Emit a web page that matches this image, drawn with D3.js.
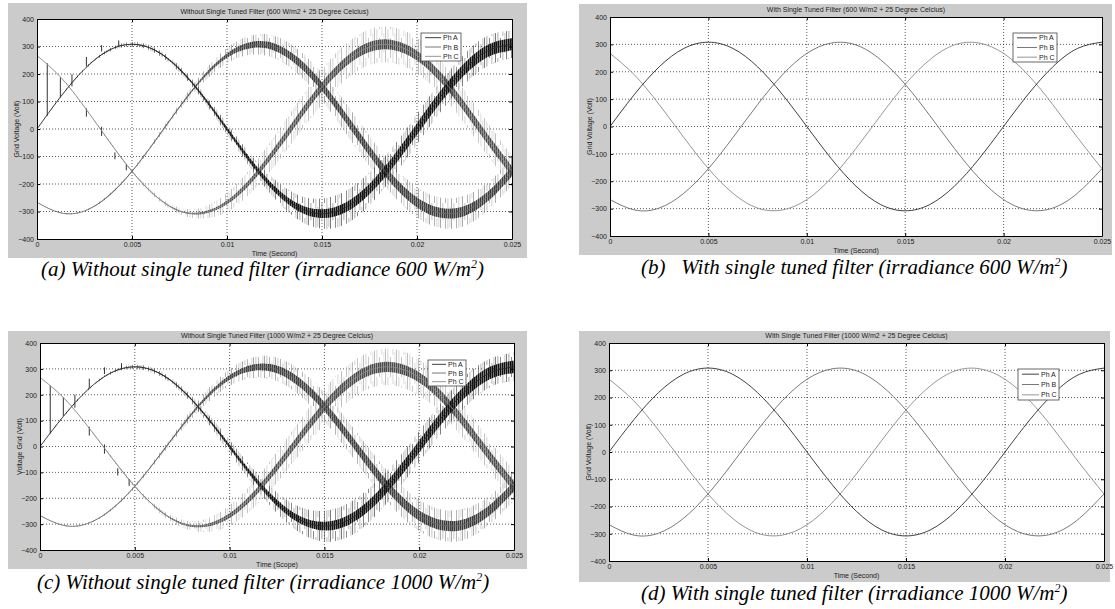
<!DOCTYPE html>
<html lang="en">
<head>
<meta charset="UTF-8">
<title>Grid voltage - with and without single tuned filter</title>
<script src="https://d3js.org/d3.v7.min.js"></script>
<style>
html, body { margin: 0; padding: 0; background: white; }
body { font-family: 'Liberation Sans', Arial, sans-serif; }

.fig { fill: #cbcbcb; }
.plot-bg { fill: white; }
.grid line { stroke: #000; stroke-width: 0.8; stroke-dasharray: 1,2; stroke-opacity: 0.8; }
.axis path, .axis line { stroke: #000; stroke-width: 1; }
.axis text { font-size: 7px; fill: #222; font-family: 'Liberation Sans', Arial, sans-serif; }
.title, .xlabel, .ylabel { font-size: 7px; fill: #222; }
.caption { font-family: 'Liberation Serif', 'Times New Roman', serif; font-style: italic; font-size: 21px; fill: #000; white-space: pre; }
.legend rect { fill: white; stroke: #444; stroke-width: 0.8; }
.legend text { font-size: 7px; fill: #222; }
.phase { fill: none; stroke-width: 0.9; }
</style>
</head>
<body>
<div id="chart"></div>
<script>

// --------------------------------------
// Data
// --------------------------------------

var timeS = [0, 0.00125, 0.0025, 0.00375, 0.005, 0.00625, 0.0075, 0.00875, 0.01, 0.01125,
             0.0125, 0.01375, 0.015, 0.01625, 0.0175, 0.01875, 0.02, 0.02125, 0.0225, 0.02375, 0.025];

var phA = [0, 118, 218, 285, 308, 285, 218, 118, 0, -118, -218, -285, -308, -285, -218, -118, 0, 118, 218, 285, 308];
var phB = [-267, -305, -298, -244, -154, -40, 80, 188, 267, 305, 298, 244, 154, 40, -80, -188, -267, -305, -298, -244, -154];
var phC = [267, 188, 80, -40, -154, -244, -298, -305, -267, -188, -80, 40, 154, 244, 298, 305, 267, 188, 80, -40, -154];

var seriesNames = ["Ph A", "Ph B", "Ph C"];

// harmonic noise, half width of the dense band and of the spikes (Volt), 600 W/m2
var coreA600  = [0, 0, 0, 1, 1, 2, 3, 5, 7, 9, 11, 13, 16, 18, 19, 20, 21, 22, 22, 22, 22];
var spikeA600 = [0, 3, 4, 6, 8, 10, 12, 15, 20, 25, 35, 45, 55, 60, 60, 55, 55, 55, 55, 55, 50];
var coreB600  = [0, 0, 0, 1, 1, 2, 3, 5, 8, 11, 13, 15, 16, 17, 18, 18, 18, 18, 18, 18, 18];
var spikeB600 = [0, 2, 3, 4, 5, 8, 12, 20, 28, 35, 40, 45, 50, 55, 55, 55, 55, 55, 55, 50, 50];
var coreC600  = [0, 0, 0, 1, 1, 1, 2, 4, 7, 10, 13, 15, 16, 17, 18, 18, 18, 18, 18, 18, 18];
var spikeC600 = [0, 2, 3, 4, 5, 8, 12, 20, 35, 45, 55, 60, 65, 65, 65, 65, 65, 60, 60, 60, 55];

// same, 1000 W/m2
var coreA1000  = [0, 0, 0, 1, 1, 2, 3, 5, 8, 10, 12, 14, 17, 19, 21, 22, 23, 24, 24, 24, 24];
var spikeA1000 = [0, 3, 4, 6, 8, 10, 12, 18, 25, 30, 40, 50, 60, 65, 65, 60, 60, 60, 60, 55, 55];
var coreB1000  = [0, 0, 0, 1, 1, 2, 4, 6, 9, 12, 15, 17, 18, 19, 20, 20, 20, 20, 20, 20, 20];
var spikeB1000 = [0, 2, 3, 4, 6, 10, 15, 25, 32, 40, 45, 50, 55, 58, 60, 60, 60, 60, 60, 55, 55];
var coreC1000  = [0, 0, 0, 1, 1, 2, 3, 5, 9, 12, 15, 17, 19, 20, 20, 20, 20, 20, 20, 20, 20];
var spikeC1000 = [0, 2, 3, 4, 6, 10, 15, 25, 40, 50, 60, 65, 70, 70, 70, 70, 70, 65, 65, 60, 60];

// isolated switching spikes at the start: [time, low, high]
var earlySpikes600  = [[0.00054, 48, 239], [0.00123, 116, 187], [0.00184, 155, 199], [0.0026, 228, 262],
                       [0.0034, 282, 305], [0.0043, 300, 322], [0.0026, 45, 75], [0.0034, -25, 8],
                       [0.0041, -110, -85], [0.0047, -150, -128]];
var earlySpikes1000 = [[0.00054, 50, 236], [0.00123, 118, 190], [0.00184, 150, 200], [0.0026, 225, 262],
                       [0.0034, 280, 306], [0.0043, 298, 322], [0.0026, 42, 76], [0.0034, -28, 8],
                       [0.0041, -112, -84], [0.0047, -152, -126]];

var xTicks = [0, 0.005, 0.01, 0.015, 0.02, 0.025];
var xTickLabels = ["0", "0.005", "0.01", "0.015", "0.02", "0.025"];
var yTicks = [-400, -300, -200, -100, 0, 100, 200, 300, 400];

// --------------------------------------
// Panels
// --------------------------------------

var panels = [
  { fig: [8, 3, 527, 258], plot: [37, 19, 512, 239], legend: [421, 33, 40, 28],
    title: "Without Single Tuned Filter (600 W/m2 + 25 Degree Celcius)",
    xlabel: "Time (Second)", ylabel: "Grid Voltage (Volt)",
    caption: ["(a) Without single tuned filter (irradiance 600 W/m", ")"], capX: 41, capY: 276,
    core: [coreA600, coreB600, coreC600], spike: [spikeA600, spikeB600, spikeC600], early: earlySpikes600 },
  { fig: [579, 4, 1112, 255], plot: [610, 17, 1102, 236], legend: [1013, 33, 44, 29],
    title: "With Single Tuned Filter (600 W/m2 + 25 Degree Celcius)",
    xlabel: "Time (Second)", ylabel: "Grid Voltage (Volt)",
    caption: ["(b)   With single tuned filter (irradiance 600 W/m", ")"], capX: 641, capY: 274 },
  { fig: [8, 331, 527, 569], plot: [40, 343, 514, 550], legend: [428, 360, 38, 26],
    title: "Without Single Tuned Filter (1000 W/m2 + 25 Degree Celcius)",
    xlabel: "Time (Scope)", ylabel: "Voltage Grid (Volt)",
    caption: ["(c) Without single tuned filter (irradiance 1000 W/m", ")"], capX: 37, capY: 589,
    core: [coreA1000, coreB1000, coreC1000], spike: [spikeA1000, spikeB1000, spikeC1000], early: earlySpikes1000 },
  { fig: [579, 331, 1110, 582], plot: [609, 343, 1104, 561], legend: [1018, 369, 41, 31],
    title: "With Single Tuned Filter (1000 W/m2 + 25 Degree Celcius)",
    xlabel: "Time (Second)", ylabel: "Grid Voltage (Volt)",
    caption: ["(d) With single tuned filter (irradiance 1000 W/m", ")"], capX: 641, capY: 600 }
];

var phaseData = [phA, phB, phC];
var lineColors = ["#2a2a2a", "#6a6a6a", "#8a8a8a"];
var coreColors = ["#101010", "#3c3c3c", "#4a4a4a"];
var spikeColors = ["#4a4a4a", "#8a8a8a", "#a8a8a8"];

var svg = d3.select("#chart").append("svg")
  .attr("width", 1115)
  .attr("height", 609);

var defs = svg.append("defs");

// broken vertical strokes to mimic the switching spikes
var stripes = [
  { x: 0,   y0: 0,  y1: 29, o: 0.9 },
  { x: 2.5, y0: 0,  y1: 17, o: 0.6 },
  { x: 5,   y0: 9,  y1: 29, o: 0.8 },
  { x: 7.5, y0: 0,  y1: 7,  o: 0.5 },
  { x: 7.5, y0: 15, y1: 29, o: 0.5 },
  { x: 9.5, y0: 4,  y1: 24, o: 0.4 }
];
spikeColors.forEach(function(c, i) {
  var p = defs.append("pattern")
    .attr("id", "spk" + i)
    .attr("patternUnits", "userSpaceOnUse")
    .attr("width", 11).attr("height", 29);
  stripes.forEach(function(s) {
    p.append("rect").attr("x", s.x).attr("y", s.y0)
      .attr("width", 0.8).attr("height", s.y1 - s.y0)
      .attr("fill", c).attr("opacity", s.o);
  });
});

// dense hatching for the core of each noisy band
coreColors.forEach(function(c, i) {
  var p = defs.append("pattern")
    .attr("id", "core" + i)
    .attr("patternUnits", "userSpaceOnUse")
    .attr("width", 2).attr("height", 4);
  p.append("rect").attr("width", 2).attr("height", 4).attr("fill", c).attr("opacity", 0.5);
  p.append("rect").attr("width", 1.1).attr("height", 4).attr("fill", c);
});

panels.forEach(function(pn, idx) {
  var g = svg.append("g");
  var x0 = pn.plot[0], y0 = pn.plot[1], x1 = pn.plot[2], y1 = pn.plot[3];

  g.append("rect").attr("class", "fig")
    .attr("x", pn.fig[0]).attr("y", pn.fig[1])
    .attr("width", pn.fig[2] - pn.fig[0]).attr("height", pn.fig[3] - pn.fig[1]);

  g.append("rect").attr("class", "plot-bg")
    .attr("x", x0).attr("y", y0).attr("width", x1 - x0).attr("height", y1 - y0);

  var xscale = d3.scaleLinear().domain([0, 0.025]).range([x0, x1]);
  var yscale = d3.scaleLinear().domain([-400, 400]).range([y1, y0]);

  // grid
  var grid = g.append("g").attr("class", "grid");
  grid.selectAll(".gx").data(xTicks.slice(1, -1)).enter().append("line")
    .attr("x1", d => xscale(d)).attr("x2", d => xscale(d))
    .attr("y1", y0).attr("y2", y1);
  grid.selectAll(".gy").data(yTicks.slice(1, -1)).enter().append("line")
    .attr("x1", x0).attr("x2", x1)
    .attr("y1", d => yscale(d)).attr("y2", d => yscale(d));

  var clipId = "clip" + idx;
  defs.append("clipPath").attr("id", clipId).append("rect")
    .attr("x", x0).attr("y", y0).attr("width", x1 - x0).attr("height", y1 - y0);
  var plotG = g.append("g").attr("clip-path", "url(#" + clipId + ")");

  var rows = function(k) {
    return timeS.map(function(t, i) { return { t: t, v: phaseData[k][i], i: i }; });
  };

  // noise bands for the unfiltered cases
  if (pn.spike) {
    [2, 1, 0].forEach(function(k) {
      var area = d3.area().curve(d3.curveNatural)
        .x(d => xscale(d.t))
        .y0(d => yscale(d.v - pn.spike[k][d.i]))
        .y1(d => yscale(d.v + pn.spike[k][d.i]));
      plotG.append("path").datum(rows(k))
        .attr("d", area)
        .style("fill", "url(#spk" + k + ")");
    });
    [2, 1, 0].forEach(function(k) {
      var area = d3.area().curve(d3.curveNatural)
        .x(d => xscale(d.t))
        .y0(d => yscale(d.v - pn.core[k][d.i]))
        .y1(d => yscale(d.v + pn.core[k][d.i]));
      plotG.append("path").datum(rows(k))
        .attr("d", area)
        .style("fill", "url(#core" + k + ")");
    });
    plotG.selectAll(".early").data(pn.early).enter().append("line")
      .attr("x1", d => xscale(d[0])).attr("x2", d => xscale(d[0]))
      .attr("y1", d => yscale(d[1])).attr("y2", d => yscale(d[2]))
      .attr("stroke", "#333").attr("stroke-width", 1);
  }

  // phase lines
  [2, 1, 0].forEach(function(k) {
    var line = d3.line().curve(d3.curveNatural)
      .x(d => xscale(d.t))
      .y(d => yscale(d.v));
    plotG.append("path").datum(rows(k))
      .attr("class", "phase")
      .attr("d", line)
      .style("stroke", lineColors[k]);
  });

  // axes, ticks pointing inwards like MATLAB
  g.append("g").attr("class", "axis")
    .attr("transform", "translate(0," + y1 + ")")
    .call(d3.axisBottom(xscale).tickValues(xTicks)
      .tickFormat((d, i) => xTickLabels[i])
      .tickSizeInner(-3).tickSizeOuter(0).tickPadding(3));
  g.append("g").attr("class", "axis")
    .attr("transform", "translate(" + x0 + ",0)")
    .call(d3.axisLeft(yscale).tickValues(yTicks)
      .tickSizeInner(-3).tickSizeOuter(0).tickPadding(3));
  g.append("g").attr("class", "axis")
    .attr("transform", "translate(0," + y0 + ")")
    .call(d3.axisTop(xscale).tickValues(xTicks).tickFormat("")
      .tickSizeInner(-3).tickSizeOuter(0));
  g.append("g").attr("class", "axis")
    .attr("transform", "translate(" + x1 + ",0)")
    .call(d3.axisRight(yscale).tickValues(yTicks).tickFormat("")
      .tickSizeInner(-3).tickSizeOuter(0));

  // labels
  g.append("text").attr("class", "title")
    .attr("x", (x0 + x1) / 2).attr("y", y0 - 5)
    .attr("text-anchor", "middle").text(pn.title);
  g.append("text").attr("class", "xlabel")
    .attr("x", (x0 + x1) / 2).attr("y", y1 + 17)
    .attr("text-anchor", "middle").text(pn.xlabel);
  g.append("text").attr("class", "ylabel")
    .attr("transform", "translate(" + (x0 - 18) + "," + ((y0 + y1) / 2) + ") rotate(-90)")
    .attr("text-anchor", "middle").text(pn.ylabel);

  // legend
  var lg = g.append("g").attr("class", "legend")
    .attr("transform", "translate(" + pn.legend[0] + "," + pn.legend[1] + ")");
  lg.append("rect").attr("width", pn.legend[2]).attr("height", pn.legend[3]);
  var step = pn.legend[3] / 3;
  seriesNames.forEach(function(name, k) {
    var yy = step * (k + 0.5);
    lg.append("line")
      .attr("x1", 4).attr("x2", pn.legend[2] - 20)
      .attr("y1", yy).attr("y2", yy)
      .attr("stroke", lineColors[k]).attr("stroke-width", 0.9);
    lg.append("text")
      .attr("x", pn.legend[2] - 18).attr("y", yy + 2.5)
      .text(name);
  });

  // caption under the figure
  var cap = svg.append("text").attr("class", "caption")
    .attr("x", pn.capX).attr("y", pn.capY);
  cap.append("tspan").text(pn.caption[0]);
  cap.append("tspan").attr("dy", -8).style("font-size", "12px").text("2");
  cap.append("tspan").attr("dy", 8).text(pn.caption[1]);
});

</script>
</body>
</html>
